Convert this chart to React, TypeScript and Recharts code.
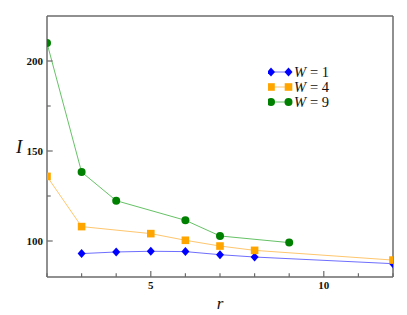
import React from "react";
import {
  LineChart,
  Line,
  XAxis,
  YAxis,
  Legend,
  ReferenceLine,
} from "recharts";

// values
const rW1 = [3, 4, 5, 6, 7, 8, 12];
const iW1 = [93.0, 93.9, 94.3, 94.1, 92.4, 91.1, 87.4];

const rW4 = [2, 3, 5, 6, 7, 8, 12];
const iW4 = [135.9, 108.0, 104.1, 100.4, 97.2, 94.8, 89.4];

const rW9 = [2, 3, 4, 6, 7, 9];
const iW9 = [210.0, 138.3, 122.4, 111.5, 102.8, 99.1];

const xTicks = [2, 3, 4, 5, 6, 7, 8, 9, 10, 11, 12];
const yTicks = [100, 125, 150, 175, 200];

const seriesNames = ["W = 1", "W = 4", "W = 9"];

const toRows = (rs: number[], is: number[]) =>
  rs.map((r, k) => ({ r, i: is[k] }));

const w1 = toRows(rW1, iW1);
const w4 = toRows(rW4, iW4);
const w9 = toRows(rW9, iW9);

const AXIS = "#6b6b6b";
const FONT = "'Liberation Serif', 'DejaVu Serif', serif";

const Diamond = ({ cx, cy, fill }: any) => (
  <path
    d={`M${cx},${cy - 4.5} L${cx + 4},${cy} L${cx},${cy + 4.5} L${cx - 4},${cy} Z`}
    fill={fill}
  />
);
const Square = ({ cx, cy, fill }: any) => (
  <rect x={cx - 3.8} y={cy - 3.8} width={7.6} height={7.6} fill={fill} />
);
const Circle = ({ cx, cy, fill }: any) => (
  <circle cx={cx} cy={cy} r={4} fill={fill} />
);

const XTick = ({ x, y, payload }: any) => {
  const v = payload.value;
  const major = v % 5 === 0;
  return (
    <g>
      <line x1={x} x2={x} y1={y} y2={y - (major ? 6 : 3.8)} stroke={AXIS} strokeWidth={1.2} />
      {major && (
        <text x={x} y={y + 12} textAnchor="middle" fontFamily={FONT} fontWeight="bold" fontSize={11} fill="#111">
          {v}
        </text>
      )}
    </g>
  );
};

const YTick = ({ x, y, payload }: any) => {
  const v = payload.value;
  const major = v % 50 === 0;
  return (
    <g>
      <line x1={x} x2={x + (major ? 5.7 : 3.7)} y1={y} y2={y} stroke={AXIS} strokeWidth={1.2} />
      {major && (
        <text x={x - 4} y={y + 4} textAnchor="end" fontFamily={FONT} fontWeight="bold" fontSize={11} fill="#111">
          {v}
        </text>
      )}
    </g>
  );
};

const legendItems = [
  { name: seriesNames[0], line: "#6e6eff", mark: "#0000ff", Shape: Diamond },
  { name: seriesNames[1], line: "#ffc66e", mark: "#ffa500", Shape: Square },
  { name: seriesNames[2], line: "#66c266", mark: "#008000", Shape: Circle },
];

const LegendBox = () => (
  <svg width={130} height={50} style={{ display: "block" }}>
    {legendItems.map((it, k) => {
      const cy = 8 + k * 15;
      const { Shape } = it;
      return (
        <g key={it.name}>
          <line x1={3} x2={20.5} y1={cy} y2={cy} stroke={it.line} strokeWidth={1} />
          <Shape cx={3} cy={cy} fill={it.mark} />
          <Shape cx={20.5} cy={cy} fill={it.mark} />
          <text x={26} y={cy + 5} fontFamily={FONT} fontStyle="italic" fontSize={14.5} fill="#111">
            W
          </text>
          <text x={42} y={cy + 5} fontFamily={FONT} fontSize={14.5} fill="#111">
            {it.name.slice(2)}
          </text>
        </g>
      );
    })}
  </svg>
);

export default function App() {
  return (
    <div style={{ position: "absolute", left: 0, top: 0, background: "#fff" }}>
      <LineChart
        width={407}
        height={315}
        margin={{ top: 16, right: 14, left: 0, bottom: 0 }}
      >
        <XAxis
          dataKey="r"
          type="number"
          domain={[2, 12]}
          ticks={xTicks}
          allowDataOverflow
          height={38}
          stroke={AXIS}
          strokeWidth={1.5}
          tickLine={false}
          tickSize={0}
          tickMargin={0}
          tick={<XTick />}
          interval={0}
          label={{ value: "r", position: "insideBottom", offset: 6, fontFamily: FONT, fontStyle: "italic", fontSize: 17, fill: "#111" }}
        />
        <YAxis
          type="number"
          domain={[80, 225]}
          ticks={yTicks}
          allowDataOverflow
          width={47}
          stroke={AXIS}
          strokeWidth={1.5}
          tickLine={false}
          tickSize={0}
          tickMargin={0}
          tick={<YTick />}
          interval={0}
          label={{ value: "I", position: "insideLeft", offset: 16, fontFamily: FONT, fontStyle: "italic", fontSize: 19, fill: "#111" }}
        />
        <ReferenceLine y={225} stroke={AXIS} strokeWidth={1.5} />
        <ReferenceLine x={12} stroke={AXIS} strokeWidth={1.5} />
        <Legend
          layout="horizontal"
          verticalAlign="middle"
          align="center"
          content={<LegendBox />}
          wrapperStyle={{ position: "absolute", left: 268, top: 64, width: 130, height: 50 }}
        />
        <Line
          data={w1}
          dataKey="i"
          name={seriesNames[0]}
          stroke="#6e6eff"
          strokeWidth={1}
          dot={<Diamond fill="#0000ff" />}
          activeDot={false}
          isAnimationActive={false}
        />
        <Line
          data={w4}
          dataKey="i"
          name={seriesNames[1]}
          stroke="#ffc66e"
          strokeWidth={1}
          dot={<Square fill="#ffa500" />}
          activeDot={false}
          isAnimationActive={false}
        />
        <Line
          data={w9}
          dataKey="i"
          name={seriesNames[2]}
          stroke="#66c266"
          strokeWidth={1}
          dot={<Circle fill="#008000" />}
          activeDot={false}
          isAnimationActive={false}
        />
      </LineChart>
    </div>
  );
}
